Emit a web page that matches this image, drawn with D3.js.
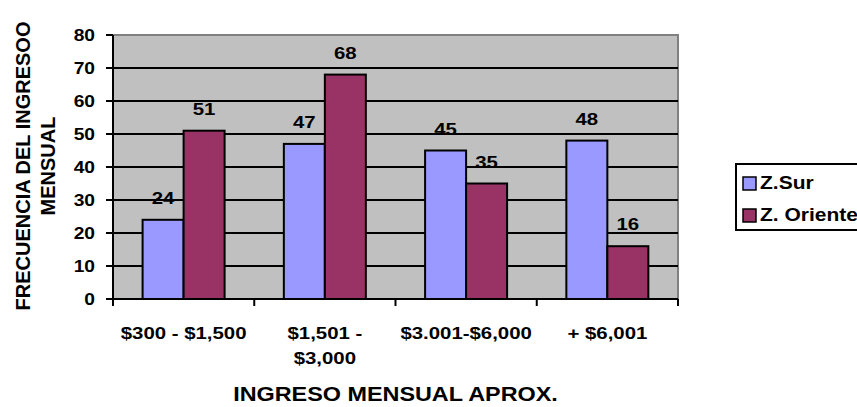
<!DOCTYPE html>
<html>
<head>
<meta charset="utf-8">
<script src="https://cdn.jsdelivr.net/npm/d3@7"></script>
<style>
  body { margin: 0; background: #fff; }
  text { font-family: "Liberation Sans", Arial, sans-serif; font-weight: bold; fill: #000; }
</style>
</head>
<body>
<svg id="chart"></svg>
<script>
// data
var categories = ["$300 - $1,500", "$1,501 - $3,000", "$3.001-$6,000", "+ $6,001"];
var categoryLines = [["$300 - $1,500"], ["$1,501 -", "$3,000"], ["$3.001-$6,000"], ["+ $6,001"]];
var seriesNames = ["Z.Sur", "Z. Oriente"];
var zSur = [24, 47, 45, 48];
var zOriente = [51, 68, 35, 16];
var yTicks = [0, 10, 20, 30, 40, 50, 60, 70, 80];
var seriesColors = ["#9999FF", "#993366"];

var width = 857, height = 407;
var svg = d3.select("#chart").attr("width", width).attr("height", height);

var plotLeft = 113, plotRight = 678, plotTop = 35, plotBottom = 299;
var stretch = 1.2; // labels in the picture are a bit wider than Arial

var x0 = d3.scaleBand().domain(categories).range([plotLeft, plotRight]);
var x1 = d3.scaleBand().domain(seriesNames).range([29.6, 111.6]);
var y = d3.scaleLinear().domain([0, 80]).range([plotBottom, plotTop]);

// wide text helper
function wideText(g, tx, ty, str, size, anchor, sx){
        return g.append("text")
                .attr("transform", "translate(" + tx + "," + ty + ") scale(" + (sx || stretch) + ",1)")
                .attr("text-anchor", anchor || "middle")
                .style("font-size", size + "px")
                .text(str);
}

// plot background
svg.append("rect")
        .attr("x", plotLeft).attr("y", plotTop)
        .attr("width", plotRight - plotLeft).attr("height", plotBottom - plotTop)
        .attr("fill", "#C0C0C0");
// top + right border (grey)
svg.append("path")
        .attr("d", "M" + plotLeft + "," + y(80) + "H" + plotRight + "V" + plotBottom)
        .attr("fill", "none").attr("stroke", "#808080").attr("stroke-width", 2);
// gridlines
svg.append("g").selectAll("line")
        .data(yTicks.filter(d => d > 0 && d < 80))
        .enter().append("line")
        .attr("x1", plotLeft).attr("x2", plotRight)
        .attr("y1", d => y(d)).attr("y2", d => y(d))
        .attr("stroke", "#000").attr("stroke-width", 2);

// bars
var rows = categories.map((c, i) => ({cat: c, vals: [zSur[i], zOriente[i]]}));
var groups = svg.append("g").selectAll("g")
        .data(rows).enter().append("g")
        .attr("transform", d => "translate(" + x0(d.cat) + ",0)");
groups.selectAll("rect")
        .data(d => d.vals.map((v, j) => ({name: seriesNames[j], v: v, j: j})))
        .enter().append("rect")
        .attr("x", d => x1(d.name)).attr("width", x1.bandwidth())
        .attr("y", d => y(d.v)).attr("height", d => y(0) - y(d.v))
        .attr("fill", d => seriesColors[d.j])
        .attr("stroke", "#000").attr("stroke-width", 2);
// value labels
groups.each(function(d){
        var g = d3.select(this);
        d.vals.forEach((v, j) => {
                wideText(g, x1(seriesNames[j]) + x1.bandwidth() / 2, y(v) - 16, v, 17);
        });
});

// y axis
var yAxis = svg.append("g");
yAxis.append("line")
        .attr("x1", plotLeft).attr("x2", plotLeft)
        .attr("y1", plotTop).attr("y2", plotBottom)
        .attr("stroke", "#000").attr("stroke-width", 2);
yAxis.selectAll(".tick").data(yTicks).enter().append("line")
        .attr("x1", plotLeft - 7).attr("x2", plotLeft)
        .attr("y1", d => y(d)).attr("y2", d => y(d))
        .attr("stroke", "#000").attr("stroke-width", 2);
yTicks.forEach(t => wideText(yAxis, 95, y(t) + 6, t, 16, "end"));

// x axis
var xAxis = svg.append("g");
xAxis.append("line")
        .attr("x1", plotLeft).attr("x2", plotRight)
        .attr("y1", plotBottom).attr("y2", plotBottom)
        .attr("stroke", "#000").attr("stroke-width", 2);
var bounds = categories.map(c => x0(c)).concat([plotRight]);
xAxis.selectAll(".tick").data(bounds).enter().append("line")
        .attr("x1", d => d).attr("x2", d => d)
        .attr("y1", plotBottom).attr("y2", plotBottom + 7)
        .attr("stroke", "#000").attr("stroke-width", 2);
categories.forEach((c, i) => {
        categoryLines[i].forEach((ln, k) => {
                wideText(xAxis, x0(c) + x0.bandwidth() / 2, 339 + k * 25, ln, 17);
        });
});

// axis titles
wideText(svg, (plotLeft + plotRight) / 2, 401, "INGRESO MENSUAL APROX.", 19.5);
var yTitle = svg.append("g").attr("transform", "translate(30,166) rotate(-90)");
yTitle.append("text").attr("text-anchor", "middle").style("font-size", "20px").text("FRECUENCIA DEL INGRESOO");
yTitle.append("text").attr("text-anchor", "middle").attr("y", 25).style("font-size", "20px").text("MENSUAL");

// legend
var legend = svg.append("g");
legend.append("rect")
        .attr("x", 736).attr("y", 164).attr("width", 150).attr("height", 66)
        .attr("fill", "#fff").attr("stroke", "#000").attr("stroke-width", 2);
seriesNames.forEach((s, i) => {
        legend.append("rect")
                .attr("x", 743).attr("y", 177 + i * 32).attr("width", 13).attr("height", 13)
                .attr("fill", seriesColors[i]).attr("stroke", "#000").attr("stroke-width", 1.5);
        wideText(legend, 760, 189 + i * 32, s, 17.5, "start", 1.2);
});
</script>
</body>
</html>
